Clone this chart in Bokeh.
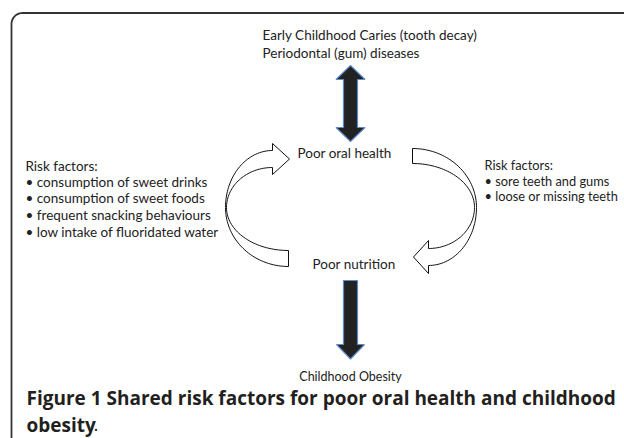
import numpy as np
from bokeh.plotting import figure
from bokeh.models import Range1d
from bokeh.core.properties import value
from bokeh.embed import file_html
from bokeh.resources import INLINE

# ---- diagram texts ----
top_labels = ["Early Childhood Caries (tooth decay)", "Periodontal (gum) diseases"]
left_risks = ["Risk factors:", "\u2022 consumption of sweet drinks", "\u2022 consumption of sweet foods",
              "\u2022 frequent snacking behaviours", "\u2022 low intake of fluoridated water"]
right_risks = ["Risk factors:", "\u2022 sore teeth and gums", "\u2022 loose or missing teeth"]
node_labels = ["Poor oral health", "Poor nutrition"]
bottom_label = "Childhood Obesity"
caption_line1 = "Figure 1 Shared risk factors for poor oral health and childhood"
caption_word2 = "obesity"

# ---- layout (page pixel coordinates) ----
W, H = 624, 438
p = figure(width=W, height=H, x_range=Range1d(0, W), y_range=Range1d(H, 0),
           output_backend="svg", toolbar_location=None, min_border=0)
p.axis.visible = False
p.grid.visible = False
p.outline_line_color = None
p.background_fill_color = "white"
p.border_fill_color = "white"

FONT = value("Lato")
TXT = "#222222"


def arc(cx, cy, rx, ry, t0, t1, n=40):
    t = np.linspace(t0, t1, n)
    return list(cx + rx * np.cos(t)), list(cy + ry * np.sin(t))


# rounded frame
bx, by = arc(22, 23.5, 11, 11, np.pi, 1.5 * np.pi, 20)
p.line([11] + bx + [640], [445] + by + [12.5], line_color="#333333", line_width=1.8)

PI = np.pi
# left curved arrow (bottom tail -> top head)
xs, ys = [], []
ax, ay = arc(288, 207, 62, 43, PI / 2, PI); xs += ax; ys += ay
ax, ay = arc(272, 207, 46, 40, PI, 1.5 * PI); xs += ax; ys += ay
xs += [272, 289, 272]; ys += [174, 158.5, 143]
ax, ay = arc(272, 207, 47, 57, 1.5 * PI, PI); xs += ax; ys += ay
ax, ay = arc(288, 207, 63, 59, PI, PI / 2); xs += ax; ys += ay
p.patch(xs, ys, fill_color="white", line_color="#111111", line_width=1)

# right curved arrow (top tail -> bottom head)
xs, ys = [], []
ax, ay = arc(412, 207, 64, 59, 1.5 * PI, 2 * PI); xs += ax; ys += ay
ax, ay = arc(428, 207, 48, 58, 0, PI / 2); xs += ax; ys += ay
xs += [428, 413, 428]; ys += [273, 256.5, 240]
ax, ay = arc(428, 207, 46, 41, PI / 2, 0); xs += ax; ys += ay
ax, ay = arc(412, 207, 62, 44, 2 * PI, 1.5 * PI); xs += ax; ys += ay
p.patch(xs, ys, fill_color="white", line_color="#111111", line_width=1)

# double vertical arrow
cx = 350
p.patch([cx, cx + 14.5, cx + 7, cx + 7, cx + 14.5, cx, cx - 14.5, cx - 7, cx - 7, cx - 14.5],
        [65, 79, 79, 127, 127, 141, 127, 127, 79, 79],
        fill_color="#222222", line_color="#5b8ac6", line_width=1.2)
# down arrow
p.patch([cx - 7, cx + 7, cx + 7, cx + 14, cx, cx - 14, cx - 7],
        [280, 280, 344, 344, 358.5, 344, 344],
        fill_color="#222222", line_color="#5b8ac6", line_width=1.2)

common = dict(text_font=FONT, text_font_size="13.5px", text_color=TXT, text_baseline="middle")

p.text(x=[262] * len(top_labels), y=[34, 52], text=top_labels, text_align="left", **common)
p.text(x=[25] * len(left_risks), y=[165, 181, 197, 214, 231], text=left_risks, text_align="left", **common)
p.text(x=[484] * len(right_risks), y=[164, 180, 195], text=right_risks, text_align="left",
       text_font=FONT, text_font_size="12.8px", text_color=TXT, text_baseline="middle")
p.text(x=[297, 312], y=[152, 263], text=node_labels, text_align="left", **common)
p.text(x=[350], y=[376], text=[bottom_label], text_align="center",
       text_font=FONT, text_font_size="12.5px", text_color=TXT, text_baseline="middle")

cap = dict(text_font=value("Open Sans"), text_font_size="19px", text_color="#231f20",
           text_baseline="middle", text_align="left")
p.text(x=[26], y=[397], text=[caption_line1], text_font_style="bold", **cap)
p.text(x=[26], y=[424], text=[caption_word2], text_font_style="bold", **cap)
p.text(x=[93], y=[424], text=["."], **cap)

open("out.html", "w").write(file_html(p, INLINE))
